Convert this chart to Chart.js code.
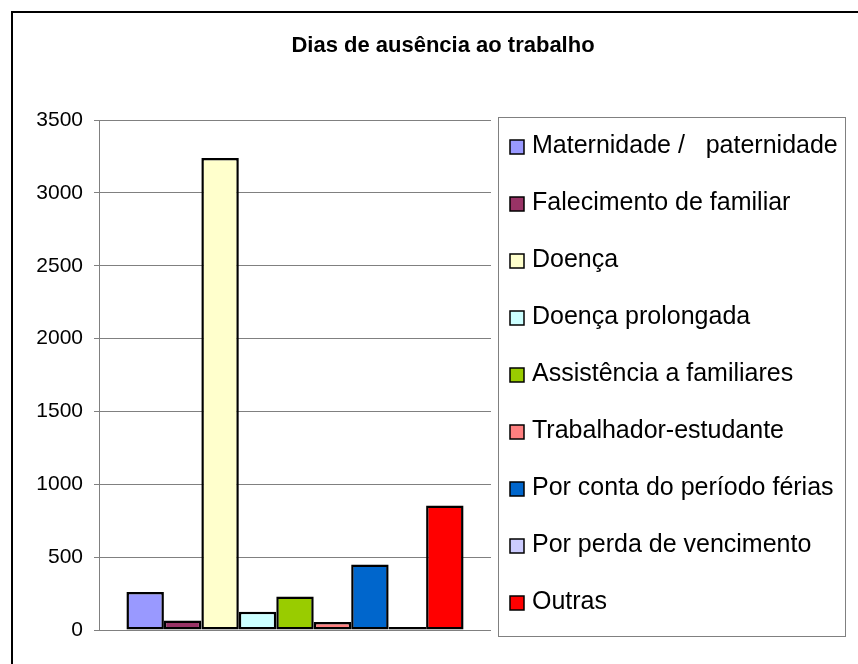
<!DOCTYPE html>
<html><head><meta charset="utf-8">
<script src="https://cdn.jsdelivr.net/npm/chart.js@4"></script>
<style>
html,body{margin:0;padding:0;background:#fff;overflow:hidden;}
#wrap{position:relative;width:858px;height:664px;overflow:hidden;}
#frame{position:absolute;left:11px;top:11px;width:900px;height:700px;border-left:2px solid #000;border-top:2px solid #000;}
canvas{position:absolute;left:0;top:0;}
</style></head><body>
<div id="wrap"><div id="frame"></div><canvas id="c" width="858" height="664"></canvas></div>
<script>
const chartTitle = 'Dias de ausência ao trabalho';
const categories = [''];
const seriesNames = [
  'Maternidade /   paternidade',
  'Falecimento de familiar',
  'Doença',
  'Doença prolongada',
  'Assistência a familiares',
  'Trabalhador-estudante',
  'Por conta do período férias',
  'Por perda de vencimento',
  'Outras'
];
const seriesValues = [260, 65, 3240, 125, 230, 55, 450, 20, 855];
const seriesColors = ['#9999FF', '#993366', '#FFFFCC', '#CCFFFF', '#99CC00', '#FF8080', '#0066CC', '#CCCCFF', '#FF0000'];
const yTickMin = 0, yTickMax = 3500, yTickStep = 500;

const FONT = "'Liberation Sans', Arial, sans-serif";

const boxLegend = {
  id: 'boxLegend',
  afterDraw(chart) {
    const ctx = chart.ctx;
    const ca = chart.chartArea;
    const L = ca.right + 7, T = ca.top - 3, R = 845, B = ca.bottom + 6;
    ctx.save();
    ctx.strokeStyle = '#808080';
    ctx.lineWidth = 1;
    ctx.strokeRect(Math.round(L) + 0.5, Math.round(T) + 0.5, Math.round(R - L), Math.round(B - T));
    const first = T + 30, step = 57;
    ctx.font = '25px ' + FONT;
    ctx.textBaseline = 'alphabetic';
    ctx.textAlign = 'left';
    chart.data.datasets.forEach((ds, i) => {
      const cy = first + i * step;
      const bx = L + 12, by = Math.round(cy - 7);
      ctx.fillStyle = ds.backgroundColor;
      ctx.fillRect(bx, by, 14, 14);
      ctx.strokeStyle = '#000';
      ctx.lineWidth = 1.5;
      ctx.strokeRect(bx, by, 14, 14);
      ctx.fillStyle = '#000';
      ctx.fillText(ds.label, L + 34, cy + 6);
    });
    ctx.restore();
  }
};

new Chart(document.getElementById('c'), {
  type: 'bar',
  data: {
    labels: categories,
    datasets: seriesNames.map((n, i) => ({
      label: n,
      data: [seriesValues[i]],
      backgroundColor: seriesColors[i],
      borderColor: '#000',
      borderWidth: 2.5,
      borderSkipped: false,
      categoryPercentage: 0.86,
      barPercentage: 1.0,
      yAxisID: 'y'
    }))
  },
  options: {
    responsive: false,
    animation: false,
    devicePixelRatio: 1,
    layout: { padding: { left: 28, right: 0, top: 33, bottom: 34 } },
    plugins: {
      legend: { display: false },
      tooltip: { enabled: false },
      title: {
        display: true,
        text: chartTitle,
        color: '#000',
        font: { family: FONT, size: 22, weight: 'bold' },
        padding: { top: 0, bottom: 60.6 }
      }
    },
    scales: {
      x: { display: false },
      y: {
        min: yTickMin, max: yTickMax,
        ticks: { stepSize: yTickStep, color: '#000', font: { family: FONT, size: 21 }, padding: 11,
                 callback: (v) => String(v) },
        grid: { color: '#808080', lineWidth: 1, tickLength: 5 },
        border: { color: '#808080', width: 1 },
        afterFit(s) { s.width = 71; }
      },
      yR: {
        position: 'right', display: true,
        grid: { display: false }, border: { display: false }, ticks: { display: false },
        afterFit(s) { s.width = 367; }
      }
    }
  },
  plugins: [boxLegend]
});
</script>
</body></html>
